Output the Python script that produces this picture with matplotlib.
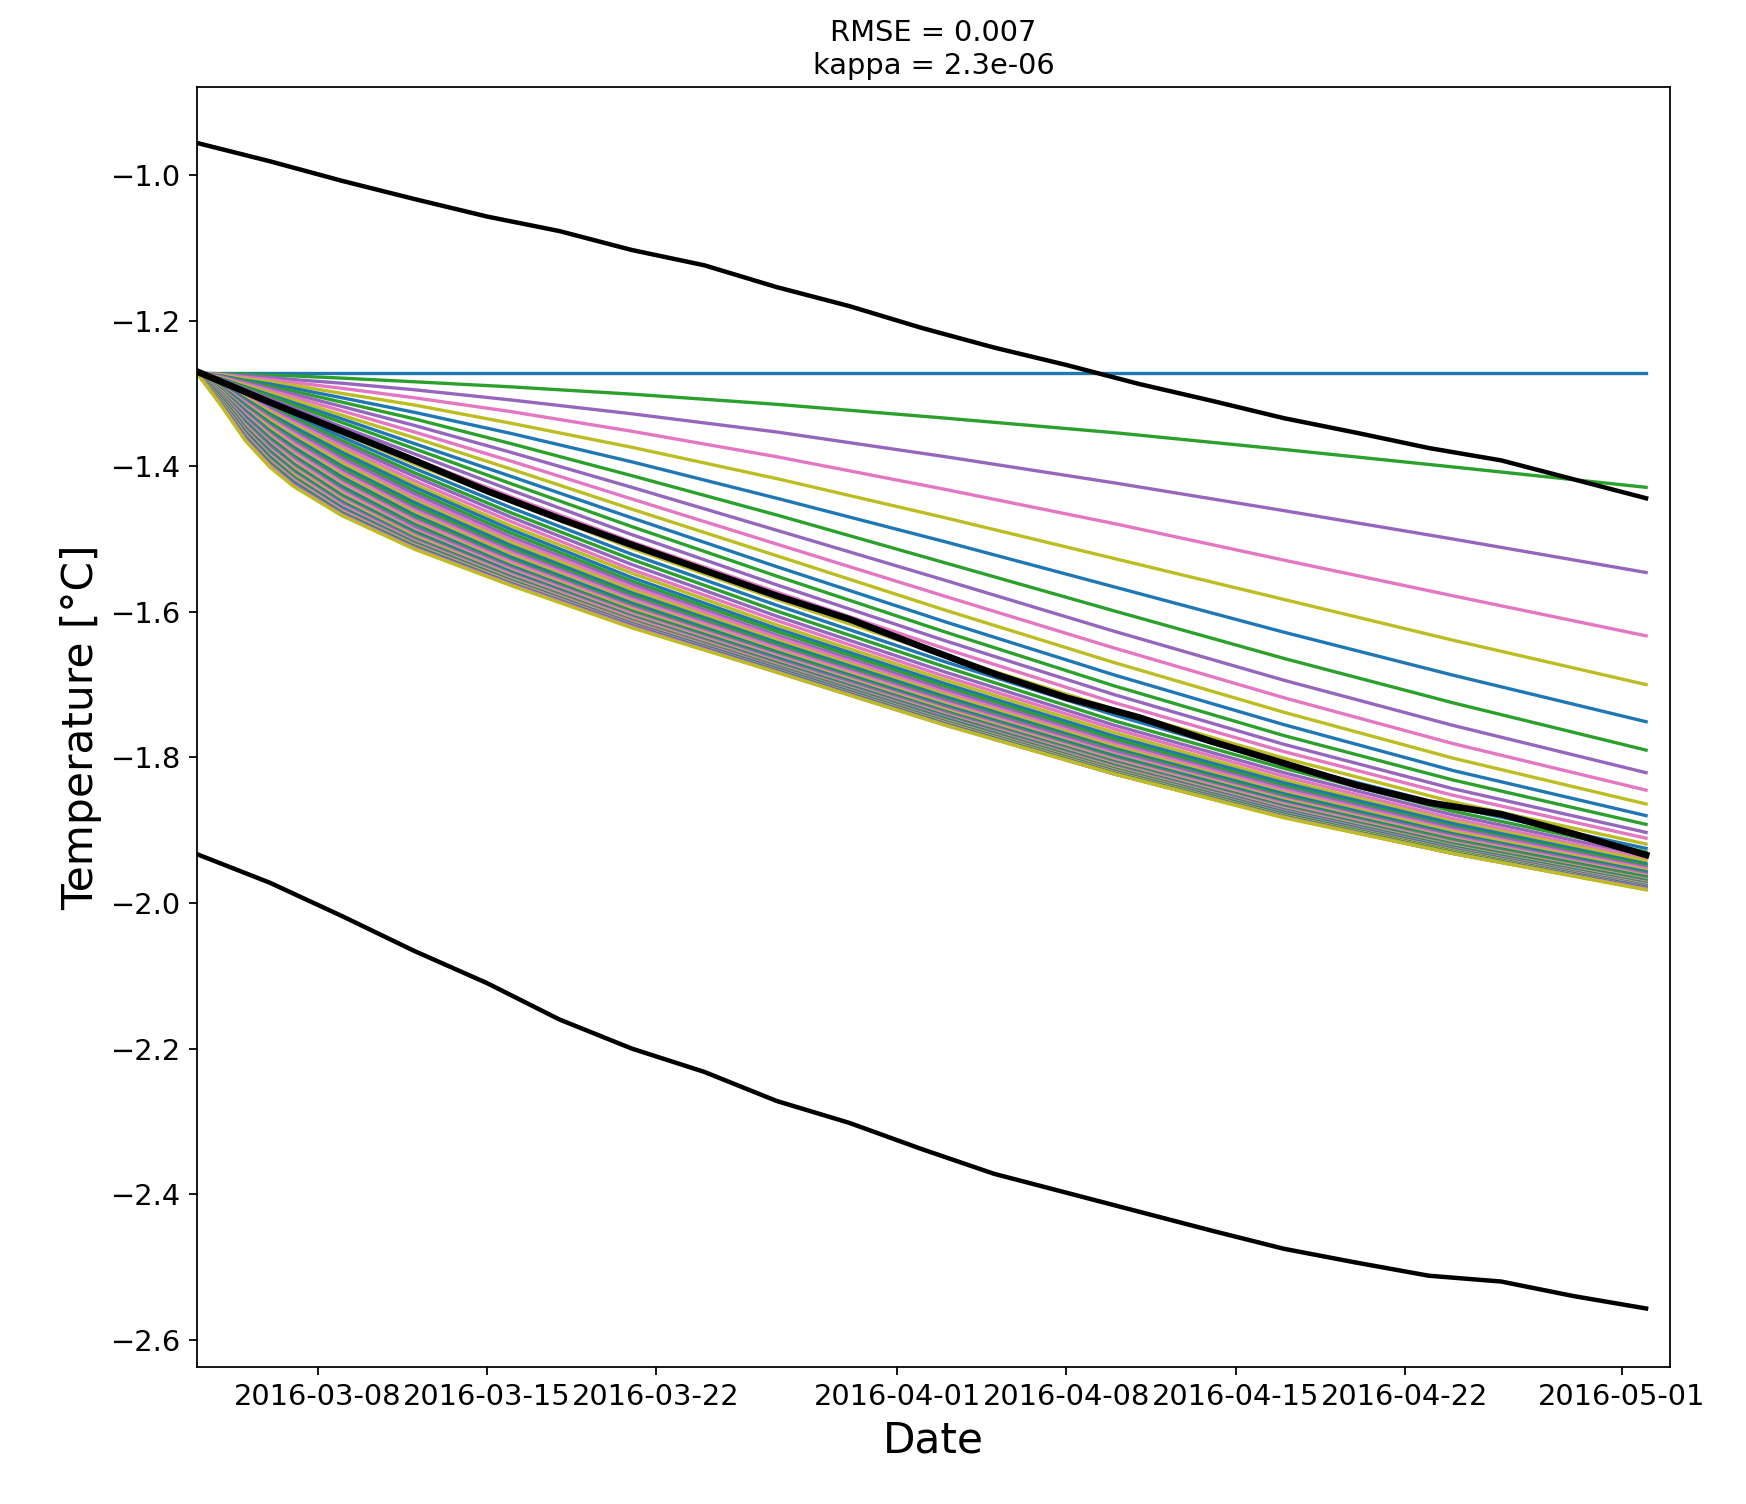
import numpy as np
import matplotlib
matplotlib.use("Agg")
import matplotlib.pyplot as plt
import matplotlib.dates as mdates

start_date = np.datetime64("2016-03-03")

# boundary / observed series, every 3 days from 2016-03-03
obs_days = [0, 3, 6, 9, 12, 15, 18, 21, 24, 27, 30, 33, 36, 39, 42, 45, 48, 51, 54, 57, 60]
upper = [-0.956, -0.981, -1.008, -1.033, -1.057, -1.077, -1.103, -1.124, -1.154, -1.180, -1.210,
         -1.237, -1.261, -1.287, -1.310, -1.334, -1.354, -1.375, -1.392, -1.418, -1.444]
lower = [-1.933, -1.972, -2.018, -2.066, -2.110, -2.160, -2.200, -2.232, -2.272, -2.302, -2.338,
         -2.372, -2.398, -2.424, -2.450, -2.475, -2.494, -2.512, -2.520, -2.540, -2.557]
observed = [-1.270, -1.312, -1.352, -1.392, -1.434, -1.472, -1.508, -1.543, -1.578, -1.610, -1.648,
            -1.685, -1.718, -1.745, -1.778, -1.808, -1.838, -1.862, -1.878, -1.905, -1.934]

# model runs (one per kappa value), sampled on these days
model_days = [0, 1, 2, 3, 4, 6, 9, 13, 18, 24, 31, 38, 45, 52, 60]
model_runs = [
    [-1.272, -1.272, -1.272, -1.272, -1.272, -1.272, -1.272, -1.272, -1.272, -1.272, -1.272, -1.272, -1.272, -1.272, -1.272],
    [-1.272, -1.273, -1.274, -1.275, -1.276, -1.279, -1.284, -1.291, -1.301, -1.315, -1.334, -1.354, -1.377, -1.401, -1.429],
    [-1.272, -1.274, -1.276, -1.278, -1.281, -1.286, -1.295, -1.309, -1.328, -1.353, -1.387, -1.423, -1.461, -1.500, -1.546],
    [-1.272, -1.274, -1.278, -1.281, -1.285, -1.293, -1.306, -1.325, -1.352, -1.387, -1.432, -1.479, -1.529, -1.578, -1.633],
    [-1.272, -1.275, -1.280, -1.284, -1.289, -1.300, -1.316, -1.341, -1.374, -1.417, -1.471, -1.527, -1.583, -1.639, -1.700],
    [-1.272, -1.276, -1.282, -1.287, -1.293, -1.306, -1.326, -1.355, -1.394, -1.444, -1.504, -1.566, -1.628, -1.687, -1.751],
    [-1.272, -1.277, -1.283, -1.290, -1.297, -1.312, -1.335, -1.369, -1.413, -1.467, -1.533, -1.599, -1.664, -1.725, -1.790],
    [-1.272, -1.277, -1.285, -1.293, -1.301, -1.318, -1.344, -1.381, -1.429, -1.488, -1.557, -1.627, -1.694, -1.756, -1.821],
    [-1.272, -1.278, -1.287, -1.296, -1.305, -1.324, -1.353, -1.393, -1.445, -1.507, -1.579, -1.650, -1.718, -1.781, -1.845],
    [-1.272, -1.279, -1.289, -1.299, -1.309, -1.330, -1.361, -1.404, -1.459, -1.523, -1.598, -1.670, -1.738, -1.801, -1.864],
    [-1.272, -1.280, -1.291, -1.302, -1.313, -1.335, -1.369, -1.414, -1.471, -1.538, -1.614, -1.687, -1.755, -1.818, -1.880],
    [-1.272, -1.281, -1.292, -1.304, -1.316, -1.340, -1.376, -1.424, -1.483, -1.551, -1.628, -1.702, -1.770, -1.831, -1.892],
    [-1.272, -1.281, -1.294, -1.307, -1.320, -1.346, -1.383, -1.433, -1.494, -1.563, -1.640, -1.714, -1.782, -1.843, -1.903],
    [-1.272, -1.282, -1.296, -1.310, -1.324, -1.351, -1.390, -1.442, -1.504, -1.573, -1.651, -1.725, -1.792, -1.852, -1.911],
    [-1.272, -1.283, -1.298, -1.313, -1.327, -1.355, -1.397, -1.449, -1.513, -1.583, -1.661, -1.734, -1.801, -1.861, -1.919],
    [-1.272, -1.284, -1.300, -1.315, -1.330, -1.360, -1.403, -1.457, -1.521, -1.591, -1.669, -1.742, -1.809, -1.868, -1.925],
    [-1.272, -1.284, -1.301, -1.318, -1.334, -1.365, -1.409, -1.464, -1.528, -1.599, -1.676, -1.750, -1.815, -1.874, -1.930],
    [-1.272, -1.285, -1.303, -1.320, -1.337, -1.369, -1.414, -1.470, -1.535, -1.606, -1.683, -1.756, -1.821, -1.879, -1.935],
    [-1.272, -1.286, -1.305, -1.323, -1.340, -1.373, -1.420, -1.476, -1.542, -1.612, -1.689, -1.761, -1.826, -1.884, -1.939],
    [-1.272, -1.287, -1.306, -1.325, -1.343, -1.377, -1.425, -1.482, -1.547, -1.618, -1.694, -1.766, -1.831, -1.888, -1.942],
    [-1.272, -1.287, -1.308, -1.328, -1.346, -1.381, -1.429, -1.487, -1.553, -1.623, -1.699, -1.771, -1.835, -1.891, -1.946],
    [-1.272, -1.288, -1.310, -1.330, -1.350, -1.385, -1.434, -1.492, -1.558, -1.627, -1.703, -1.775, -1.839, -1.895, -1.948],
    [-1.272, -1.289, -1.311, -1.333, -1.352, -1.389, -1.438, -1.497, -1.562, -1.632, -1.707, -1.779, -1.842, -1.897, -1.951],
    [-1.272, -1.290, -1.313, -1.335, -1.355, -1.393, -1.443, -1.501, -1.566, -1.635, -1.711, -1.782, -1.845, -1.900, -1.953],
    [-1.272, -1.291, -1.315, -1.337, -1.358, -1.396, -1.447, -1.505, -1.570, -1.639, -1.714, -1.785, -1.848, -1.902, -1.955],
    [-1.272, -1.291, -1.316, -1.340, -1.361, -1.400, -1.450, -1.509, -1.574, -1.642, -1.717, -1.788, -1.850, -1.905, -1.957],
    [-1.272, -1.292, -1.318, -1.342, -1.364, -1.403, -1.454, -1.513, -1.577, -1.645, -1.720, -1.790, -1.853, -1.907, -1.959],
    [-1.272, -1.293, -1.320, -1.344, -1.366, -1.406, -1.458, -1.516, -1.580, -1.648, -1.722, -1.792, -1.855, -1.908, -1.960],
    [-1.272, -1.294, -1.321, -1.346, -1.369, -1.409, -1.461, -1.519, -1.583, -1.650, -1.725, -1.795, -1.857, -1.910, -1.962],
    [-1.272, -1.294, -1.323, -1.348, -1.372, -1.412, -1.464, -1.522, -1.586, -1.653, -1.727, -1.797, -1.858, -1.912, -1.963],
    [-1.272, -1.295, -1.324, -1.351, -1.374, -1.415, -1.467, -1.525, -1.588, -1.655, -1.729, -1.798, -1.860, -1.913, -1.964],
    [-1.272, -1.296, -1.326, -1.353, -1.377, -1.418, -1.470, -1.528, -1.591, -1.657, -1.731, -1.800, -1.862, -1.914, -1.965],
    [-1.272, -1.297, -1.327, -1.355, -1.379, -1.421, -1.473, -1.530, -1.593, -1.659, -1.732, -1.802, -1.863, -1.916, -1.967],
    [-1.272, -1.297, -1.329, -1.357, -1.381, -1.423, -1.475, -1.532, -1.595, -1.660, -1.734, -1.803, -1.864, -1.917, -1.968],
    [-1.272, -1.298, -1.331, -1.359, -1.384, -1.426, -1.478, -1.535, -1.597, -1.662, -1.735, -1.805, -1.866, -1.918, -1.968],
    [-1.272, -1.299, -1.332, -1.361, -1.386, -1.428, -1.480, -1.537, -1.599, -1.663, -1.737, -1.806, -1.867, -1.919, -1.969],
    [-1.272, -1.300, -1.334, -1.363, -1.388, -1.431, -1.482, -1.539, -1.600, -1.665, -1.738, -1.807, -1.868, -1.920, -1.970],
    [-1.272, -1.300, -1.335, -1.365, -1.390, -1.433, -1.484, -1.540, -1.602, -1.666, -1.739, -1.808, -1.869, -1.921, -1.971],
    [-1.272, -1.301, -1.337, -1.367, -1.392, -1.435, -1.487, -1.542, -1.603, -1.668, -1.741, -1.809, -1.870, -1.922, -1.972],
    [-1.272, -1.302, -1.338, -1.369, -1.395, -1.438, -1.489, -1.544, -1.605, -1.669, -1.742, -1.810, -1.871, -1.922, -1.972],
    [-1.272, -1.303, -1.339, -1.370, -1.397, -1.440, -1.490, -1.545, -1.606, -1.670, -1.743, -1.811, -1.872, -1.923, -1.973],
    [-1.272, -1.303, -1.341, -1.372, -1.399, -1.442, -1.492, -1.547, -1.607, -1.671, -1.744, -1.812, -1.873, -1.924, -1.974],
    [-1.272, -1.304, -1.342, -1.374, -1.401, -1.444, -1.494, -1.548, -1.608, -1.672, -1.745, -1.813, -1.873, -1.925, -1.974],
    [-1.272, -1.305, -1.344, -1.376, -1.402, -1.445, -1.495, -1.549, -1.609, -1.673, -1.746, -1.814, -1.874, -1.925, -1.975],
    [-1.272, -1.306, -1.345, -1.378, -1.404, -1.447, -1.497, -1.551, -1.611, -1.674, -1.747, -1.815, -1.875, -1.926, -1.975],
    [-1.272, -1.306, -1.347, -1.379, -1.406, -1.449, -1.499, -1.552, -1.612, -1.675, -1.747, -1.816, -1.875, -1.926, -1.976],
    [-1.272, -1.307, -1.348, -1.381, -1.408, -1.451, -1.500, -1.553, -1.612, -1.675, -1.748, -1.816, -1.876, -1.927, -1.977],
    [-1.272, -1.308, -1.349, -1.383, -1.410, -1.452, -1.501, -1.554, -1.613, -1.676, -1.749, -1.817, -1.877, -1.927, -1.977],
    [-1.272, -1.309, -1.351, -1.384, -1.411, -1.454, -1.503, -1.555, -1.614, -1.677, -1.750, -1.818, -1.877, -1.928, -1.977],
    [-1.272, -1.309, -1.352, -1.386, -1.413, -1.456, -1.504, -1.556, -1.615, -1.678, -1.750, -1.818, -1.878, -1.928, -1.978],
    [-1.272, -1.310, -1.353, -1.387, -1.415, -1.457, -1.505, -1.557, -1.616, -1.678, -1.751, -1.819, -1.878, -1.929, -1.978],
    [-1.272, -1.311, -1.355, -1.389, -1.416, -1.459, -1.506, -1.558, -1.617, -1.679, -1.752, -1.820, -1.879, -1.929, -1.979],
    [-1.272, -1.312, -1.356, -1.391, -1.418, -1.460, -1.507, -1.559, -1.617, -1.680, -1.752, -1.820, -1.880, -1.930, -1.979],
    [-1.272, -1.312, -1.357, -1.392, -1.419, -1.461, -1.508, -1.559, -1.618, -1.680, -1.753, -1.821, -1.880, -1.930, -1.980],
    [-1.272, -1.313, -1.359, -1.394, -1.421, -1.463, -1.509, -1.560, -1.619, -1.681, -1.753, -1.821, -1.880, -1.930, -1.980],
    [-1.272, -1.314, -1.360, -1.395, -1.422, -1.464, -1.510, -1.561, -1.619, -1.681, -1.754, -1.822, -1.881, -1.931, -1.980],
    [-1.272, -1.315, -1.361, -1.396, -1.424, -1.465, -1.511, -1.562, -1.620, -1.682, -1.755, -1.822, -1.881, -1.931, -1.981],
    [-1.272, -1.315, -1.362, -1.398, -1.425, -1.466, -1.512, -1.562, -1.620, -1.682, -1.755, -1.823, -1.882, -1.932, -1.981],
    [-1.272, -1.316, -1.364, -1.399, -1.427, -1.467, -1.513, -1.563, -1.621, -1.683, -1.756, -1.823, -1.882, -1.932, -1.981],
    [-1.272, -1.317, -1.365, -1.401, -1.428, -1.468, -1.514, -1.564, -1.622, -1.683, -1.756, -1.823, -1.883, -1.932, -1.982],
]

title_text = "RMSE = 0.007\nkappa = 2.3e-06"
run_colors = ["#1f77b4", "#2ca02c", "#9467bd", "#e377c2", "#bcbd22"]

fig = plt.figure(figsize=(10.9125, 9.4), dpi=160)
ax = fig.add_axes([0.1129, 0.0908, 0.8437, 0.8514])

model_dates = start_date + np.array(model_days).astype("timedelta64[D]")
obs_dates = start_date + np.array(obs_days).astype("timedelta64[D]")

for k, run in enumerate(model_runs):
    ax.plot(model_dates, run, color=run_colors[k % len(run_colors)], lw=1.5)
ax.plot(obs_dates, upper, color="black", lw=2)
ax.plot(obs_dates, lower, color="black", lw=2)
ax.plot(obs_dates, observed, color="black", lw=3)

ax.set_xlim(np.datetime64("2016-03-03"), np.datetime64("2016-05-03"))
ax.set_ylim(-2.638, -0.879)
ax.xaxis.set_major_locator(mdates.DayLocator(bymonthday=[1, 8, 15, 22]))
ax.xaxis.set_major_formatter(mdates.DateFormatter("%Y-%m-%d"))
ax.tick_params(labelsize=13)
ax.set_title(title_text, fontsize=13)
ax.set_xlabel("Date", fontsize=19)
ax.set_ylabel("Temperature [°C]", fontsize=19)
fig.savefig("out.png", dpi=160)
